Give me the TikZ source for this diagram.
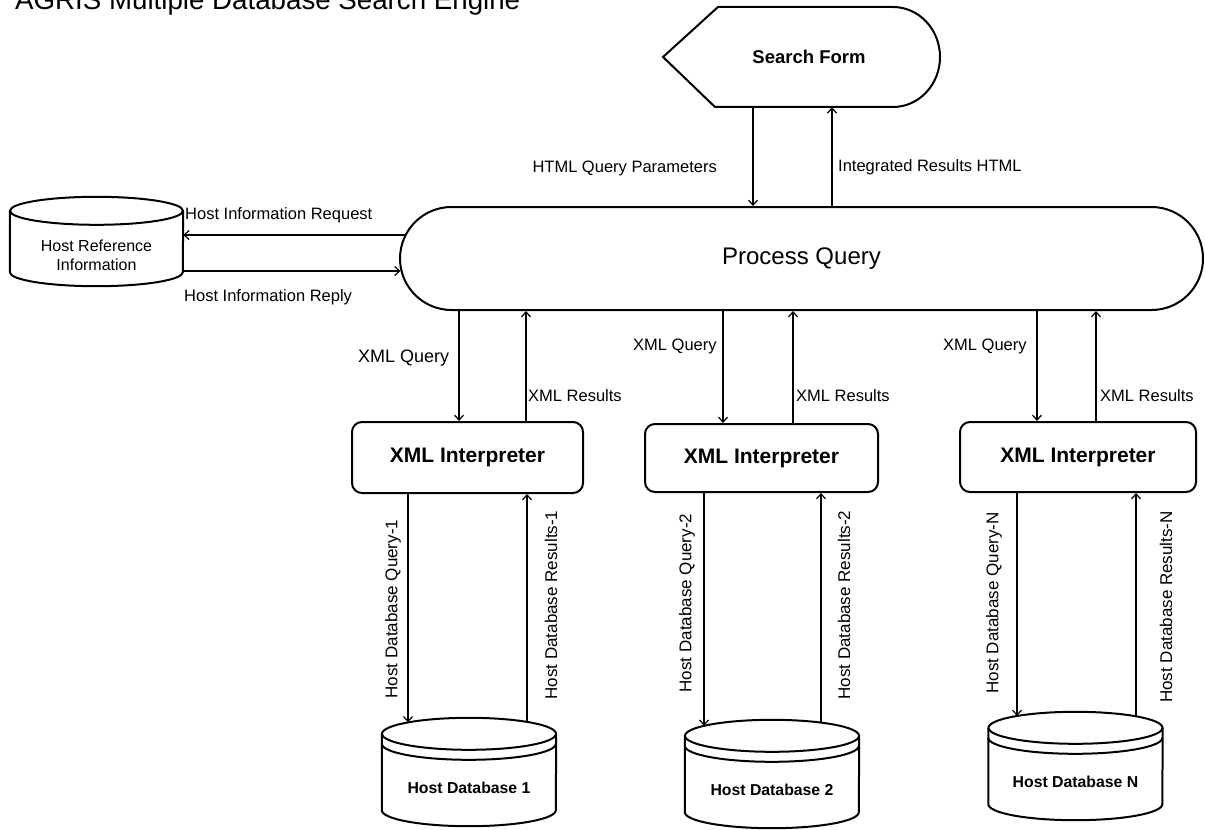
\documentclass[tikz,border=0pt]{standalone}
\usepackage{fontspec}
\setmainfont{Liberation Sans}
\usetikzlibrary{arrows.meta,shapes.misc,shapes.geometric}

\begin{document}
\begin{tikzpicture}[x=1pt,y=-1pt,
  outline/.style={line width=2pt},
  arr/.style={line width=1.8pt,-{Straight Barb[length=5pt,width=9pt,line width=1.2pt]}},
  lbl/.style={font=\fontsize{16.5}{19}\selectfont,inner sep=0pt},
  vlbl/.style={font=\fontsize{17}{19}\selectfont,inner sep=0pt,rotate=90},
  interp/.style={draw,outline,rounded corners=10pt,inner sep=0pt,
    font=\bfseries\fontsize{21}{24}\selectfont},
  face/.style={minimum width=174pt,minimum height=76pt,inner sep=0pt,
    font=\bfseries\fontsize{15.8}{18}\selectfont},
  dbtop/.style={draw,outline,ellipse,minimum width=174pt,minimum height=32pt,inner sep=0pt}
]
\useasboundingbox (0,0) rectangle (1206,829);

% title
\node[anchor=base west,inner sep=0pt,font=\fontsize{27.7}{30}\selectfont] (title) at (15,10)
  {AGRIS Multiple Database Search Engine};

% search form (display shape)
\draw[outline] (663,57) -- (718,7) -- (893,7)
  arc[start angle=-90,end angle=90,x radius=47,y radius=50] -- (715,107) -- cycle;
\node[inner sep=0pt,minimum height=100pt,font=\bfseries\fontsize{18.5}{21}\selectfont] (sf) at (809,57) {Search Form};

% central process
\node[draw,outline,rounded rectangle,minimum width=803pt,minimum height=103pt,inner sep=0pt,
  font=\fontsize{24}{28}\selectfont] (pq) at (801.5,258.5) {Process Query};

% host reference store
\node[inner sep=0pt,minimum width=173pt,minimum height=65pt,align=center,
  font=\fontsize{16}{19}\selectfont] (hr) at (96.5,255.5) {Host Reference\\Information};
\draw[outline] ([yshift=12]hr.north) ellipse[x radius=86.5,y radius=14];
\draw[outline] ([yshift=12]hr.north west) -- ([yshift=16]hr.south west)
  arc[start angle=180,end angle=0,x radius=86.5,y radius=14] -- ([yshift=12]hr.north east);

% interpreters
\node[interp,minimum width=231pt,minimum height=71pt] (x1) at (467.5,457.5) {XML Interpreter};
\node[interp,minimum width=233pt,minimum height=68pt] (x2) at (761.5,458) {XML Interpreter};
\node[interp,minimum width=236pt,minimum height=70pt] (x3) at (1078,457) {XML Interpreter};

% host databases
\newcommand\hostdb[3]{%
  \node[face] (#1) at (#2) {#3};
  \node[dbtop] (#1t) at ([yshift=16]#1.north) {};
  \draw[outline] ([yshift=16]#1.north west) -- ([yshift=16]#1.south west)
    arc[start angle=180,end angle=0,x radius=87,y radius=16] -- ([yshift=16]#1.north east);
  \draw[outline] ([yshift=6]#1.north west) arc[start angle=180,end angle=0,x radius=87,y radius=16];
}
\hostdb{db1}{469,788}{Host Database 1}
\hostdb{db2}{772,790}{Host Database 2}
\hostdb{db3}{1075.5,782}{Host Database N}

% search form <-> process query
\coordinate (sfa) at ([xshift=-56]sf.south);
\coordinate (sfb) at ([xshift=23]sf.south);
\draw[arr] (sfa) -- (sfa |- pq.north);
\draw[arr] (sfb |- pq.north) -- (sfb);

% process query <-> host reference
\coordinate (pqa) at ([xshift=5.7,yshift=23.5]pq.west);
\coordinate (pqb) at ([xshift=1.5,yshift=-12.5]pq.west);
\draw[arr] (pqa) -- (pqa -| hr.east);
\draw[arr] (pqb -| hr.east) -- (pqb);

% process query <-> interpreters
\coordinate (q1) at ([xshift=-8.5]x1.north);
\coordinate (r1) at ([xshift=58.5]x1.north);
\coordinate (q2) at ([xshift=-38.5]x2.north);
\coordinate (r2) at ([xshift=31.5]x2.north);
\coordinate (q3) at ([xshift=-41]x3.north);
\coordinate (r3) at ([xshift=18]x3.north);
\foreach \q/\r in {q1/r1,q2/r2,q3/r3}{
  \draw[arr] (\q |- pq.south) -- (\q);
  \draw[arr] (\r) -- (\r |- pq.south);
}

% interpreters <-> databases
\coordinate (d1q) at ([xshift=-61,yshift=27.4]db1.north);
\coordinate (d1r) at ([xshift=58,yshift=27.9]db1.north);
\coordinate (d2q) at ([xshift=-68,yshift=26.0]db2.north);
\coordinate (d2r) at ([xshift=49,yshift=29.2]db2.north);
\coordinate (d3q) at ([xshift=-58.5,yshift=27.8]db3.north);
\coordinate (d3r) at ([xshift=60.5,yshift=27.5]db3.north);
\foreach \x/\q/\r in {x1/d1q/d1r,x2/d2q/d2r,x3/d3q/d3r}{
  \draw[arr] (\x.south -| \q) -- (\q);
  \draw[arr] (\r) -- (\x.south -| \r);
}

% flow labels
\node[lbl,anchor=east] (lhq) at (717,168) {HTML Query Parameters};
\node[lbl,anchor=west] (lir) at (838,167) {Integrated Results HTML};
\node[lbl,anchor=west] (lreq) at (185,215) {Host Information Request};
\node[lbl,anchor=west] (lrep) at (184,297) {Host Information Reply};
\node[lbl,anchor=west,font=\fontsize{18}{20}\selectfont] (xq1) at (358,358) {XML Query};
\node[lbl,anchor=west] (xr1) at (528,396) {XML Results};
\node[lbl,anchor=west] (xq2) at (633,346) {XML Query};
\node[lbl,anchor=west] (xr2) at (796,396) {XML Results};
\node[lbl,anchor=west] (xq3) at (943,346) {XML Query};
\node[lbl,anchor=west] (xr3) at (1100,396) {XML Results};

\node[vlbl] (hq1) at (393,609) {Host Database Query-1};
\node[vlbl] (hs1) at (551,605) {Host Database Results-1};
\node[vlbl] (hq2) at (687,603) {Host Database Query-2};
\node[vlbl] (hs2) at (844,605) {Host Database Results-2};
\node[vlbl] (hq3) at (994,603) {Host Database Query-N};
\node[vlbl] (hs3) at (1166,607) {Host Database Results-N};
\end{tikzpicture}
\end{document}
